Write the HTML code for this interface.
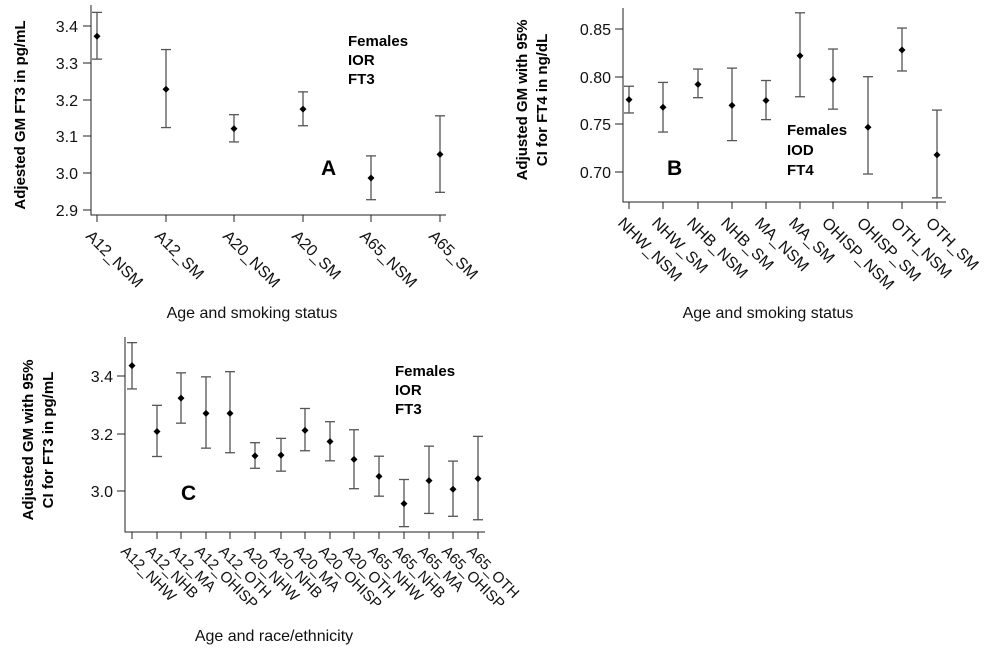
<!DOCTYPE html>
<html><head><meta charset="utf-8"><style>
html,body{margin:0;padding:0;background:#fff;}
svg{display:block;font-family:"Liberation Sans",Arial,sans-serif;}
.tl{font-size:16px;fill:#111;}
.b{font-weight:bold;fill:#000;}
</style></head><body>
<svg id="s" width="999" height="657" viewBox="0 0 999 657" xmlns="http://www.w3.org/2000/svg">
<g stroke="#222" stroke-width="1" fill="none">
<path d="M91 5V215H446"/>
<path d="M623 8V202H946"/>
<path d="M125 337V532H485"/>
</g>
<g id="bars"></g>
<g class="tl" text-anchor="end" font-size="16">
<text x="78" y="32">3.4</text><text x="78" y="69">3.3</text><text x="78" y="106">3.2</text>
<text x="78" y="142">3.1</text><text x="78" y="179">3.0</text><text x="78" y="216">2.9</text>
</g>
<g class="tl" text-anchor="end" font-size="16">
<text x="611" y="35">0.85</text><text x="611" y="83">0.80</text><text x="611" y="130">0.75</text><text x="611" y="178">0.70</text>
</g>
<g class="tl" text-anchor="end" font-size="16">
<text x="113" y="382">3.4</text><text x="113" y="440">3.2</text><text x="113" y="497">3.0</text>
</g>
<g class="tl">
<text transform="translate(85,237) rotate(45)">A12_NSM</text>
<text transform="translate(154,237) rotate(45)">A12_SM</text>
<text transform="translate(222,237) rotate(45)">A20_NSM</text>
<text transform="translate(291,237) rotate(45)">A20_SM</text>
<text transform="translate(359,237) rotate(45)">A65_NSM</text>
<text transform="translate(428,237) rotate(45)">A65_SM</text>
</g>
<g class="tl">
<text transform="translate(617,224) rotate(45)">NHW_NSM</text>
<text transform="translate(651,224) rotate(45)">NHW_SM</text>
<text transform="translate(686,224) rotate(45)">NHB_NSM</text>
<text transform="translate(720,224) rotate(45)">NHB_SM</text>
<text transform="translate(754,224) rotate(45)">MA_NSM</text>
<text transform="translate(788,224) rotate(45)">MA_SM</text>
<text transform="translate(821,224) rotate(45)">OHISP_NSM</text>
<text transform="translate(856,224) rotate(45)">OHISP_SM</text>
<text transform="translate(890,224) rotate(45)">OTH_NSM</text>
<text transform="translate(925,224) rotate(45)">OTH_SM</text>
</g>
<g class="tl" style="font-size:15px">
<text transform="translate(120,552) rotate(45)">A12_NHW</text>
<text transform="translate(145,552) rotate(45)">A12_NHB</text>
<text transform="translate(169,552) rotate(45)">A12_MA</text>
<text transform="translate(194,552) rotate(45)">A12_OHISP</text>
<text transform="translate(218,552) rotate(45)">A12_OTH</text>
<text transform="translate(243,552) rotate(45)">A20_NHW</text>
<text transform="translate(269,552) rotate(45)">A20_NHB</text>
<text transform="translate(293,552) rotate(45)">A20_MA</text>
<text transform="translate(318,552) rotate(45)">A20_OHISP</text>
<text transform="translate(342,552) rotate(45)">A20_OTH</text>
<text transform="translate(367,552) rotate(45)">A65_NHW</text>
<text transform="translate(392,552) rotate(45)">A65_NHB</text>
<text transform="translate(417,552) rotate(45)">A65_MA</text>
<text transform="translate(441,552) rotate(45)">A65_OHISP</text>
<text transform="translate(466,552) rotate(45)">A65_OTH</text>
</g>
<text class="b" font-size="15" text-anchor="middle" transform="translate(25,115) rotate(-90)">Adjested GM FT3 in pg/mL</text>
<text class="b" font-size="15" text-anchor="middle" transform="translate(527,100) rotate(-90)">Adjusted GM with 95%</text>
<text class="b" font-size="15" text-anchor="middle" transform="translate(547,100) rotate(-90)">CI for FT4 in ng/dL</text>
<text class="b" font-size="15" text-anchor="middle" transform="translate(33,440) rotate(-90)">Adjusted GM with 95%</text>
<text class="b" font-size="15" text-anchor="middle" transform="translate(53,440) rotate(-90)">CI for FT3 in pg/mL</text>
<g font-size="16" fill="#111" text-anchor="middle">
<text x="252" y="318">Age and smoking status</text>
<text x="768" y="318">Age and smoking status</text>
<text x="274" y="641">Age and race/ethnicity</text>
</g>
<g class="b" font-size="15">
<text x="348" y="46">Females</text><text x="348" y="65">IOR</text><text x="348" y="84">FT3</text>
<text x="787" y="135">Females</text><text x="787" y="155">IOD</text><text x="787" y="175">FT4</text>
<text x="395" y="376">Females</text><text x="395" y="395">IOR</text><text x="395" y="414">FT3</text>
</g>
<g class="b" font-size="21">
<text x="321" y="175">A</text><text x="667" y="175">B</text><text x="181" y="500">C</text>
</g>
</svg>
<script>
(function(){
var g=document.getElementById('bars'),h='';
function panel(xs,data,ax,f,cap,ytk){
 ytk.forEach(function(y){h+='<line x1="'+(ax.x-8)+'" x2="'+ax.x+'" y1="'+y+'" y2="'+y+'" stroke="#222"/>';});
 xs.forEach(function(x,i){
  h+='<line x1="'+x+'" x2="'+x+'" y1="'+ax.y+'" y2="'+(ax.y+7)+'" stroke="#222"/>';
  var d=data[i],ym=f(d[0]),yl=f(d[1]),yh=f(d[2]);
  h+='<g stroke="#555" stroke-width="1.3"><line x1="'+x+'" x2="'+x+'" y1="'+yh+'" y2="'+yl+'"/>'+
   '<line x1="'+(x-cap)+'" x2="'+(x+cap)+'" y1="'+yh+'" y2="'+yh+'"/>'+
   '<line x1="'+(x-cap)+'" x2="'+(x+cap)+'" y1="'+yl+'" y2="'+yl+'"/></g>';
  h+='<path d="M'+x+' '+(ym-3.5)+'L'+(x+3.5)+' '+ym+'L'+x+' '+(ym+3.5)+'L'+(x-3.5)+' '+ym+'Z" fill="#000"/>';
 });
}
panel([97,166,234,303,371,440],
 [[3.372,3.31,3.437],[3.228,3.124,3.336],[3.121,3.085,3.159],[3.174,3.129,3.221],[2.987,2.928,3.047],[3.051,2.948,3.156]],
 {x:91,y:215},function(v){return 26+(3.4-v)*368;},5,[26,63,100,136,173,210]);
panel([629,663,698,732,766,800,833,868,902,937],
 [[.776,.762,.790],[.768,.742,.794],[.792,.778,.808],[.770,.733,.809],[.775,.755,.796],[.822,.779,.867],[.797,.766,.829],[.747,.698,.800],[.828,.806,.851],[.718,.673,.765]],
 {x:623,y:202},function(v){return 29+(0.85-v)*954;},5,[29,77,124,172]);
panel([132,157,181,206,230,255,281,305,330,354,379,404,429,453,478],
 [[3.436,3.355,3.516],[3.207,3.120,3.298],[3.323,3.236,3.411],[3.270,3.149,3.397],[3.270,3.133,3.415],[3.122,3.079,3.168],[3.125,3.069,3.183],[3.211,3.140,3.287],[3.172,3.105,3.241],[3.110,3.008,3.213],[3.051,2.982,3.121],[2.956,2.876,3.040],[3.036,2.922,3.156],[3.006,2.912,3.104],[3.043,2.900,3.190]],
 {x:125,y:532},function(v){return 376+(3.4-v)*287.5;},5,[376,434,491]);
g.innerHTML=h;
})();
</script>
</body></html>
